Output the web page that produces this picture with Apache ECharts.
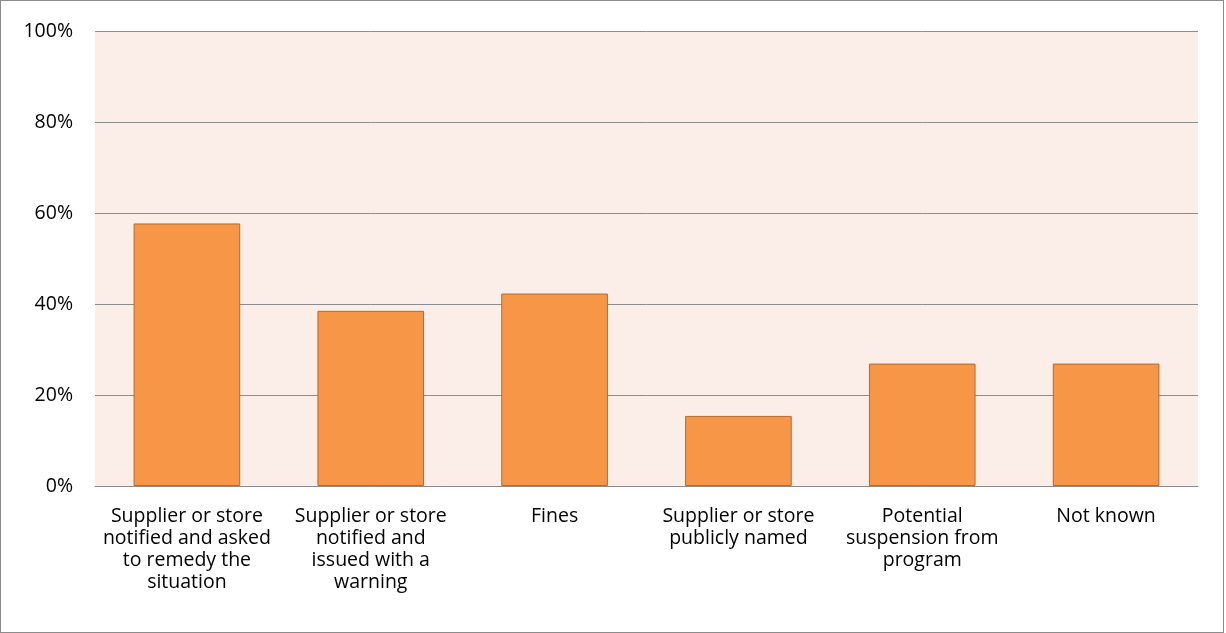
<!DOCTYPE html>
<html>
<head>
<meta charset="utf-8">
<script src="https://cdn.jsdelivr.net/npm/echarts@6/dist/echarts.min.js"></script>
<style>
html,body{margin:0;padding:0;background:#fff;}
#frame{position:absolute;left:0;top:0;width:1222px;height:631px;border:1px solid #8c8c8c;}
#chart{width:1222px;height:631px;}
</style>
</head>
<body>
<div id="frame"><div id="chart"></div></div>
<script>
const categories = [
  "Supplier or store\nnotified and asked\nto remedy the\nsituation",
  "Supplier or store\nnotified and\nissued with a\nwarning",
  "Fines",
  "Supplier or store\npublicly named",
  "Potential\nsuspension from\nprogram",
  "Not known"
];
const values = [57.7, 38.5, 42.3, 15.4, 26.9, 26.9];
const yTicks = [0, 20, 40, 60, 80, 100];

const FONT = 'Open Sans';
const chart = echarts.init(document.getElementById('chart'));
chart.setOption({
  animation: false,
  textStyle: {fontFamily: FONT},
  grid: {left: 94, right: 25, top: 30, bottom: 146, show: true, backgroundColor: '#FBEDE8', borderWidth: 0},
  xAxis: {
    type: 'category', data: categories,
    axisLine: {show: true, lineStyle: {color: '#8c8c8c', width: 1}},
    axisTick: {show: false},
    axisLabel: {color: '#000', fontSize: 19.5, lineHeight: 22, margin: 19, interval: 0, fontFamily: FONT}
  },
  yAxis: {
    type: 'value', min: 0, max: 100, interval: 20,
    axisLine: {show: false}, axisTick: {show: false},
    splitLine: {lineStyle: {color: '#8c8c8c', width: 1}},
    axisLabel: {color: '#000', fontSize: 19.5, margin: 22, fontFamily: FONT, formatter: v => yTicks.includes(v) ? v + '%' : ''}
  },
  series: [{
    type: 'bar', data: values, barWidth: '58%',
    itemStyle: {color: '#F79646', borderColor: '#B5692F', borderWidth: 1}
  }]
});
</script>
</body>
</html>
